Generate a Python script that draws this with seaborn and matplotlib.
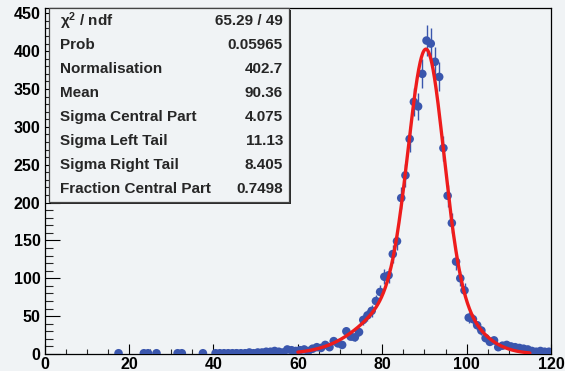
import numpy as np
import pandas as pd
import matplotlib
matplotlib.use("Agg")
import matplotlib.pyplot as plt
import seaborn as sns
from matplotlib.ticker import MultipleLocator
from matplotlib.patches import Rectangle

# Histogram content (1-unit bins, only non-empty bins listed)
bin_centers = [17.5, 23.5, 24.5, 26.5, 31.5, 32.5, 37.5, 40.5,
               41.5, 42.5, 43.5, 44.5, 45.5, 46.5, 47.5, 48.5, 49.5,
               50.5, 51.5, 52.5, 53.5, 54.5, 55.5, 56.5, 57.5, 58.5, 59.5,
               60.5, 61.5, 62.5, 63.5, 64.5, 65.5, 66.5, 67.5, 68.5, 69.5,
               70.5, 71.5, 72.5, 73.5, 74.5, 75.5, 76.5, 77.5, 78.5, 79.5,
               80.5, 81.5, 82.5, 83.5, 84.5, 85.5, 86.5, 87.5, 88.5, 89.5,
               90.5, 91.5, 92.5, 93.5, 94.5, 95.5, 96.5, 97.5, 98.5, 99.5,
               100.5, 101.5, 102.5, 103.5, 104.5, 105.5, 106.5, 107.5, 108.5, 109.5,
               110.5, 111.5, 112.5, 113.5, 114.5, 115.5, 116.5, 117.5, 118.5, 119.5]
counts = [1, 1, 1, 1, 1, 1, 1, 1,
          1, 1, 1, 1, 1, 1, 1, 2, 1,
          2, 2, 3, 3, 4, 3, 2, 6, 5, 4,
          5, 6, 4, 7, 9, 8, 12, 9, 17, 14,
          12, 30, 23, 22, 29, 45, 51, 57, 70, 82,
          102, 104, 132, 149, 206, 236, 284, 333, 327, 370,
          414, 410, 386, 366, 272, 209, 173, 122, 100, 84,
          48, 46, 38, 31, 21, 16, 18, 9, 11, 12,
          10, 9, 8, 7, 6, 4, 3, 4, 3, 3]

# Fit parameters (asymmetric double Gaussian)
norm = 402.7
mean = 90.36
sigma_core = 4.075
sigma_left = 11.13
sigma_right = 8.405
frac_core = 0.7498
fit_range = (60.0, 115.0)

stat_labels = [r"$\chi^{2}$ / ndf", "Prob", "Normalisation", "Mean",
               "Sigma Central Part", "Sigma Left Tail", "Sigma Right Tail",
               "Fraction Central Part"]
stat_values = ["65.29 / 49", "0.05965", "402.7", "90.36", "4.075",
               "11.13", "8.405", "0.7498"]

x_ticks = [0, 20, 40, 60, 80, 100, 120]
y_ticks = [0, 50, 100, 150, 200, 250, 300, 350, 400, 450]

bg = "#f0f3f5"
blue = "#3a56ad"
red = "#ee1c1c"

sns.set_style("ticks")
plt.rcParams["font.family"] = ["Liberation Sans", "DejaVu Sans"]
plt.rcParams["font.weight"] = "bold"
plt.rcParams["mathtext.default"] = "regular"

W, H = 565, 371
fig = plt.figure(figsize=(W / 100, H / 100), dpi=100, facecolor=bg)
ax = fig.add_axes([44.7 / W, (H - 354) / H, (551 - 44.7) / W, (354 - 8) / H])
ax.set_facecolor(bg)

df = pd.DataFrame({"x": bin_centers, "n": counts})
df["err"] = np.sqrt(df["n"])

# vertical Poisson error bars
ax.vlines(df["x"], df["n"] - df["err"], df["n"] + df["err"], color=blue,
          lw=1.0, zorder=2)
sns.scatterplot(data=df, x="x", y="n", ax=ax, color=blue, s=38,
                edgecolor="none", linewidth=0, zorder=3, legend=False)


def model(x):
    d = x - mean
    tail = np.where(d < 0, sigma_left, sigma_right)
    return norm * (frac_core * np.exp(-d ** 2 / (2 * sigma_core ** 2))
                   + (1 - frac_core) * np.exp(-d ** 2 / (2 * tail ** 2)))


xs = np.linspace(fit_range[0], fit_range[1], 600)
fit_df = pd.DataFrame({"x": xs, "y": model(xs)})
sns.lineplot(data=fit_df, x="x", y="y", ax=ax, color=red, lw=2.4, zorder=4)

ax.set_xlim(0, 120)
ax.set_ylim(0, 457)
ax.set_xticks(x_ticks)
ax.set_yticks(y_ticks)
ax.xaxis.set_minor_locator(MultipleLocator(5))
ax.yaxis.set_minor_locator(MultipleLocator(10))
ax.xaxis.set_tick_params(which="major", direction="in", length=7.2, width=0.8, pad=2.5)
ax.xaxis.set_tick_params(which="minor", direction="in", length=3.6, width=0.8)
ax.yaxis.set_tick_params(which="major", direction="in", length=10.8, width=0.8, pad=3)
ax.yaxis.set_tick_params(which="minor", direction="in", length=5.4, width=0.8)
ax.tick_params(labelsize=11.5, colors="black")
for lab in ax.get_xticklabels() + ax.get_yticklabels():
    lab.set_fontweight("bold")
ax.set_xlabel("")
ax.set_ylabel("")
for sp in ax.spines.values():
    sp.set_visible(True)
    sp.set_color("black")
    sp.set_linewidth(0.9)

# statistics box
bx0, by0, bx1, by1 = 49, 8, 289, 202
fig.patches.append(Rectangle(((bx0 + 2) / W, (H - by1 - 2) / H),
                             (bx1 - bx0) / W, (by1 - by0) / H,
                             transform=fig.transFigure, facecolor="#2a2a2a",
                             edgecolor="none", zorder=5))
fig.patches.append(Rectangle((bx0 / W, (H - by1) / H),
                             (bx1 - bx0) / W, (by1 - by0) / H,
                             transform=fig.transFigure, facecolor=bg,
                             edgecolor="#444444", lw=0.9, zorder=6))
row_y = [21, 45, 69, 93, 117, 141, 165, 189]
for lab, val, yy in zip(stat_labels, stat_values, row_y):
    fig.text(60 / W, (H - yy) / H, lab, ha="left", va="center", fontsize=11,
             fontweight="bold", zorder=7)
    fig.text(283 / W, (H - yy) / H, val, ha="right", va="center", fontsize=11,
             fontweight="bold", zorder=7)

fig.savefig("out.png", dpi=100, facecolor=bg)
